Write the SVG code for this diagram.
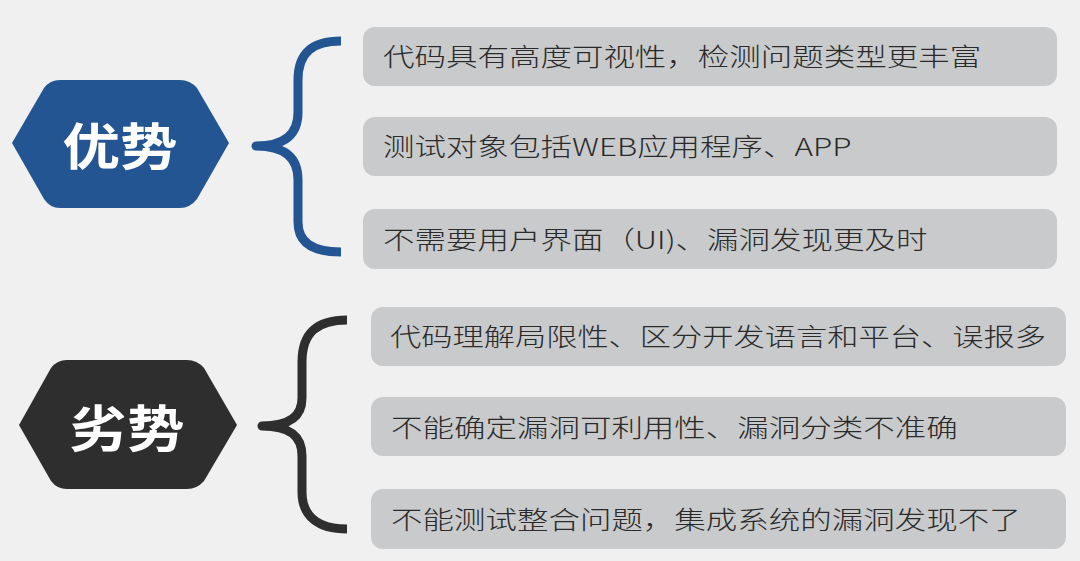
<svg xmlns="http://www.w3.org/2000/svg" width="1080" height="561" viewBox="0 0 1080 561">
<style>
.box{fill:#c9cacc}
.t{font-family:"Noto Sans CJK SC","Liberation Sans",sans-serif;font-size:25px;font-weight:300;fill:#2a2a2a;dominant-baseline:central}
.h{font-family:"Noto Sans CJK SC","Liberation Sans",sans-serif;font-size:50px;font-weight:bold;fill:#ffffff;dominant-baseline:central;text-anchor:middle}
.br{fill:none;stroke-width:9;stroke-linecap:butt;stroke-linejoin:round}
</style>
<rect width="1080" height="561" fill="#f0f0f0"/>
<g id="connectors">
<path class="br" stroke="#245593" d="M341,41 C313,41 298,52 298,80 L298,112 C298,134 285,146 256,146 C285,146 298,158 298,180 L298,222 C298,242 312,252 341,252"/>
<path class="br" stroke="#2e2e2e" d="M347,320 C318,320 302,332 302,362 L302,398 C302,416 290,426 262,426 C290,426 302,436 302,456 L302,492 C302,516 318,529 347,529"/>
</g>
<g id="node-adv">
<path d="M60,80 L180,80 Q190,80 197,88 L229,143 L197,199 Q190,208 180,208 L60,208 Q50,208 44,199 L12,143 L44,88 Q50,80 60,80 Z" fill="#245593"/>
<text class="h" transform="translate(120,143) scale(1.15,1)">优势</text>
</g>
<g id="node-dis">
<path d="M67,360 L187,360 Q197,360 204,368 L237,425 L204,481 Q197,489 187,489 L67,489 Q57,489 51,481 L19,425 L51,368 Q57,360 67,360 Z" fill="#2e2e2e"/>
<text class="h" transform="translate(127,425) scale(1.15,1)">劣势</text>
</g>
<g id="item1"><rect class="box" x="363" y="27" width="694" height="59" rx="12"/><text class="t" transform="translate(383,55) scale(1.26,1)">代码具有高度可视性，检测问题类型更丰富</text></g>
<g id="item2"><rect class="box" x="363" y="117" width="694" height="59" rx="12"/><text class="t" transform="translate(383,145) scale(1.26,1)">测试对象包括WEB应用程序、APP</text></g>
<g id="item3"><rect class="box" x="363" y="209" width="694" height="60" rx="12"/><text class="t" transform="translate(383,238) scale(1.26,1)">不需要用户界面（UI)、漏洞发现更及时</text></g>
<g id="item4"><rect class="box" x="371" y="307" width="695" height="59" rx="12"/><text class="t" transform="translate(390,335) scale(1.25,1)">代码理解局限性、区分开发语言和平台、误报多</text></g>
<g id="item5"><rect class="box" x="371" y="397" width="695" height="59" rx="12"/><text class="t" transform="translate(391,426) scale(1.26,1)">不能确定漏洞可利用性、漏洞分类不准确</text></g>
<g id="item6"><rect class="box" x="371" y="489" width="695" height="60" rx="12"/><text class="t" transform="translate(391,518) scale(1.26,1)">不能测试整合问题，集成系统的漏洞发现不了</text></g>
</svg>
